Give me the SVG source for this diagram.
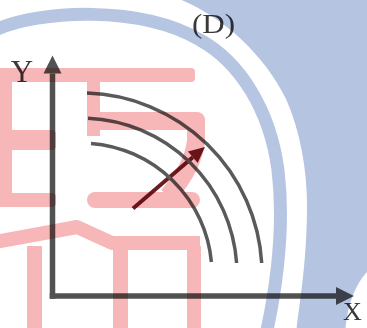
<svg xmlns="http://www.w3.org/2000/svg" width="367" height="328" viewBox="0 0 367 328">
<style>
.wm-blue{fill:#b4c4e1}
.wm-white{fill:#ffffff}
.wm-ring{fill:none;stroke:#b6c5e2;stroke-width:13}
.wm-pink{fill:#f7b6b7}
.wm-pinks{fill:none;stroke:#f7b6b7;stroke-linejoin:round}
.axis{stroke:#525252;stroke-width:5.5;fill:none}
.arc{stroke:#5a5a5a;stroke-width:3.5;fill:none}
.vec{stroke:#6b1c22;stroke-width:4;fill:none}
.lbl{font-family:"Liberation Serif","Times New Roman",serif;fill:#3a3a3a}
</style>
<defs>
<marker id="axhead" markerUnits="userSpaceOnUse" markerWidth="18" markerHeight="18" refX="0" refY="9" orient="auto" overflow="visible">
<path d="M0,0 L18,9 L0,18 Z" fill="#525252"/>
</marker>
<marker id="vechead" markerUnits="userSpaceOnUse" markerWidth="16" markerHeight="16" refX="0" refY="8" orient="auto" overflow="visible">
<path d="M0,0.5 L16,8 L0,15.5 Z" fill="#6b1c22"/>
</marker>
</defs>
<g id="watermark">
<rect class="wm-blue" x="0" y="0" width="367" height="328"/>
<path class="wm-white" d="M -5 -5 L 168 -5 C 215 10, 262 50, 286 99 C 300 130, 307 170, 307 205 C 307 260, 300 300, 296 333 L -5 333 Z"/>
<path class="wm-white" d="M 367 272 C 355 285, 347 305, 345 333 L 372 333 Z"/>
<path class="wm-ring" d="M -5 30 C 40 10, 140 5, 200 40 C 240 62, 270 110, 278 170 C 284 220, 278 280, 266 335"/>
<rect class="wm-pink" x="-5" y="68" width="200" height="14" rx="4"/>
<rect class="wm-pink" x="-5" y="68" width="17" height="139"/>
<rect class="wm-pink" x="0" y="130" width="56" height="20" rx="4"/>
<rect class="wm-pink" x="0" y="193" width="56" height="14" rx="4"/>
<rect class="wm-pink" x="87" y="68" width="13" height="68"/>
<rect class="wm-pink" x="87" y="112" width="118" height="18" rx="8"/>
<path class="wm-pinks" stroke-width="18" d="M 196 118 L 196 140 Q 194 166 168 196"/>
<rect class="wm-pink" x="87" y="192" width="113" height="16" rx="8"/>
<path class="wm-pinks" stroke-width="14" d="M -5 242 L 77 227 L 112 243 L 200 243"/>
<rect class="wm-pink" x="27" y="246" width="15" height="85"/>
<rect class="wm-pink" x="113" y="246" width="15" height="85"/>
<rect class="wm-pink" x="187" y="246" width="14" height="85"/>
</g>
<g id="diagram" style="mix-blend-mode:multiply">
<g id="connectors">
<line class="axis" x1="52.5" y1="298.75" x2="52.5" y2="73.5" marker-end="url(#axhead)"/>
<line class="axis" x1="49.75" y1="296" x2="336" y2="296" marker-end="url(#axhead)"/>
<line class="vec" x1="133" y1="208.5" x2="192.8" y2="157.3" marker-end="url(#vechead)"/>
</g>
<g id="arcs">
<path class="arc" d="M 87 93.1 A 181 181 0 0 1 261.7 263"/>
<path class="arc" d="M 88 118.2 A 156 156 0 0 1 236.6 263"/>
<path class="arc" d="M 91 143.4 A 131 131 0 0 1 211.4 262"/>
</g>
<g id="labels">
<text class="lbl" x="343" y="320" font-size="26">X</text>
<text class="lbl" x="22" y="82" font-size="31" text-anchor="middle">Y</text>
<text class="lbl" font-size="27" text-anchor="middle" transform="translate(213.5,33) scale(1.15,1)">(D)</text>
</g>
</g>
</svg>
